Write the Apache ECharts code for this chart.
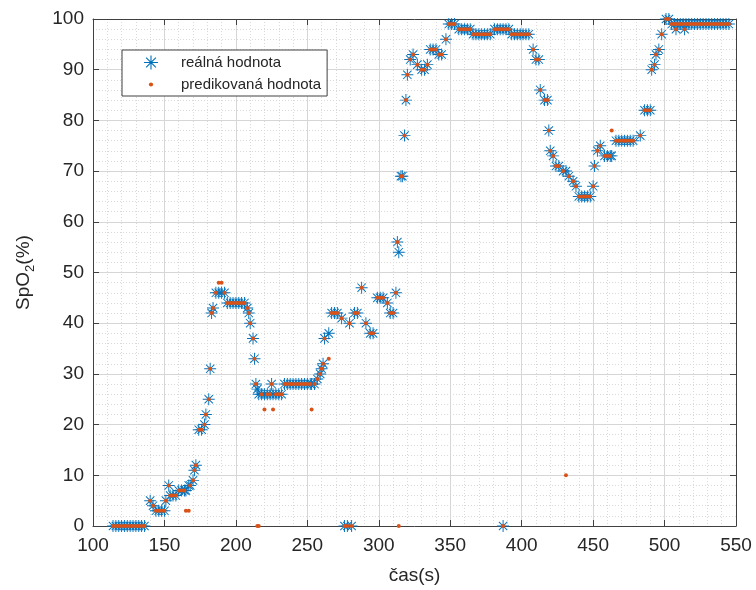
<!DOCTYPE html>
<html>
<head>
<meta charset="utf-8">
<script src="https://cdn.jsdelivr.net/npm/echarts@6/dist/echarts.min.js"></script>
<style>
  html, body { margin: 0; padding: 0; background: #fff; }
  #chart { width: 756px; height: 590px; }
</style>
</head>
<body>
<div id="chart"></div>
<script>
// time (s) shared by both series; real and predicted SpO2 (%) per sample
const time = [
  114, 116, 118, 120, 122, 124, 126, 128, 130, 132, 134, 136,
  140, 142, 144, 146, 148, 150, 151, 153, 154, 156, 158, 160, 162, 164, 165, 167, 168, 170, 171, 172,
  174, 176, 178, 179, 181, 182, 183, 184, 186, 188, 190, 192,
  194, 196, 198, 200, 202, 204, 206, 208, 209, 210, 212, 213, 214, 215, 216,
  218, 220, 222, 224, 225, 226, 228, 230, 232,
  234, 236, 238, 240, 242, 244, 246, 248, 250, 252, 253, 255,
  257, 259, 260, 261, 262, 265, 267, 269, 271, 274,
  276, 278, 279.5, 281, 283, 285, 288, 291, 294, 296,
  299, 301, 303, 306, 308, 310, 312, 313, 314,
  315.5, 316.5, 318, 319, 320, 322, 324, 327, 330, 332, 334,
  336, 338, 340, 342, 344, 347, 349, 351, 353,
  356, 358, 360, 362, 364, 366, 368, 370, 372, 374, 376, 378,
  381, 383, 385, 387, 387, 389, 391,
  393, 395, 397, 399, 401, 403, 405,
  408, 410, 412, 413, 416, 418, 419, 420, 422, 424, 426, 429, 431, 433, 436, 438,
  440, 442, 444, 446, 448, 450, 451, 453, 455, 458, 460, 462, 463,
  466, 468, 470, 472, 474, 476, 478, 483, 486, 488, 490,
  491, 493, 494, 496, 498, 501, 503,
  505, 507, 508, 509, 511, 513, 514, 515, 517, 519, 521, 523, 525, 527, 529, 531, 533, 535, 537, 539, 541, 543, 545
];
const realSpO2 = [
  0, 0, 0, 0, 0, 0, 0, 0, 0, 0, 0, 0,
  5, 4, 3, 3, 3, 3, 5, 8, 6, 6, 6, 7, 7, 7, 7, 8, 8, 9, 11, 12,
  19, 19, 20, 22, 25, 31, 42, 43, 46, 46, 46, 46,
  44, 44, 44, 44, 44, 44, 44, 43, 42, 40, 37, 33, 28, 27, 26,
  26, 26, 26, 26, 28, 26, 26, 26, 26,
  28, 28, 28, 28, 28, 28, 28, 28, 28, 28, 28, 28,
  29, 30, 31, 32, 37, 38, 42, 42, 42, 41,
  0, 0, 40, 0, 42, 42, 47, 40, 38, 38,
  45, 45, 45, 44, 42, 42, 46, 56, 54,
  69, 69, 77, 84, 89, 92, 93, 91, 90, 90, 91,
  94, 94, 94, 93, 93, 96, 99, 99, 99,
  98, 98, 98, 98, 98, 97, 97, 97, 97, 97, 97, 97,
  98, 98, 98, 0, 98, 98, 98,
  97, 97, 97, 97, 97, 97, 97,
  94, 92, 92, 86, 84, 84, 78, 74, 73, 71, 71, 70, 70, 69, 68, 67,
  65, 65, 65, 65, 65, 67, 71, 74, 75, 73, 73, 73, 73,
  76, 76, 76, 76, 76, 76, 76, 77, 82, 82, 82,
  90, 91, 93, 94, 97, 100, 100,
  99, 99, 98, 99, 99, 99, 98, 99, 99, 99, 99, 99, 99, 99, 99, 99, 99, 99, 99, 99, 99, 99, 99
];
const predSpO2 = [
  0, 0, 0, 0, 0, 0, 0, 0, 0, 0, 0, 0,
  5, 4, 3, 3, 3, 3, 5, 8, 6, 6, 6, 7, 7, 7, 3, 3, 8, 9, 11, 12,
  19, 19, 20, 22, 25, 31, 42, 43, 46, 48, 48, 46,
  44, 44, 44, 44, 44, 44, 44, 43, 42, 40, 37, 33, 28, 0, 0,
  26, 23, 26, 26, 28, 23, 26, 26, 26,
  28, 28, 28, 28, 28, 28, 28, 28, 28, 28, 23, 28,
  29, 30, 31, 32, 37, 33, 42, 42, 42, 41,
  0, 0, 40, 0, 42, 42, 47, 40, 38, 38,
  45, 45, 45, 44, 42, 42, 46, 56, 0,
  69, 69, 77, 84, 89, 92, 93, 91, 90, 90, 91,
  94, 94, 94, 93, 93, 96, 99, 99, 99,
  98, 98, 98, 98, 98, 97, 97, 97, 97, 97, 97, 97,
  98, 98, 98, 0, 98, 98, 98,
  97, 97, 97, 97, 97, 97, 97,
  94, 92, 92, 86, 84, 84, 78, 74, 73, 71, 71, 70, 10, 69, 68, 67,
  65, 65, 65, 65, 65, 67, 71, 74, 75, 73, 73, 73, 78,
  76, 76, 76, 76, 76, 76, 76, 77, 82, 82, 82,
  90, 91, 93, 94, 97, 100, 100,
  99, 99, 98, 99, 99, 99, 98, 99, 99, 99, 99, 99, 99, 99, 99, 99, 99, 99, 99, 99, 99, 99, 99
];
const seriesNames = ["reálná hodnota", "predikovaná hodnota"];

const FONT = "Liberation Sans, Arial, sans-serif";
const TEXT = "#262626";
const AXIS = "#404040";
// MATLAB-like '*' marker as filled thin bars (all subpaths same winding)
const ASTERISK = "path://M46 0L54 0L54 100L46 100Z M0 46L100 46L100 54L0 54Z " +
  "M17.8 12.2L87.8 82.2L82.2 87.8L12.2 17.8Z M82.2 12.2L87.8 17.8L17.8 87.8L12.2 82.2Z";
const SMALL_DOT = "path://M0 0M20 20M10 7A3 3 0 1 1 10 13A3 3 0 1 1 10 7Z";

const chart = echarts.init(document.getElementById("chart"), null, { renderer: "canvas" });

const boxAxis = {
  min: 0, max: 100, interval: 10,
  axisLine: { show: true, lineStyle: { color: AXIS, width: 1 } },
  axisTick: { show: true, inside: true, length: 6, lineStyle: { color: AXIS } },
  axisLabel: { show: false },
  splitLine: { show: false }
};

chart.setOption({
  animation: false,
  textStyle: { fontFamily: FONT },
  grid: { left: 93, right: 20, top: 19, bottom: 64 },
  legend: {
    orient: "vertical",
    left: 122, top: 50,
    padding: [5, 6, 4, 22],
    itemWidth: 50, itemHeight: 14, itemGap: 7,
    backgroundColor: "#fff",
    borderColor: AXIS, borderWidth: 1, borderRadius: 0,
    textStyle: { fontFamily: FONT, fontSize: 15, color: TEXT },
    data: [
      { name: seriesNames[0], icon: ASTERISK },
      { name: seriesNames[1], icon: SMALL_DOT }
    ]
  },
  xAxis: [{
    type: "value", min: 100, max: 550, interval: 50,
    name: "čas(s)", nameLocation: "middle", nameGap: 40,
    nameTextStyle: { fontFamily: FONT, fontSize: 19, color: TEXT },
    axisLine: { show: true, onZero: false, lineStyle: { color: AXIS, width: 1 } },
    axisTick: { show: true, inside: true, length: 6, lineStyle: { color: AXIS } },
    axisLabel: { fontFamily: FONT, fontSize: 19, color: TEXT, margin: 10 },
    splitLine: { show: true, lineStyle: { color: "#d6d6d6", width: 1 } },
    minorTick: { show: false, splitNumber: 5 },
    minorSplitLine: { show: true, lineStyle: { color: "#d9d9d9", type: [1, 2], width: 1 } }
  }, {
    type: "value", position: "top", min: 100, max: 550, interval: 50,
    axisLine: { show: true, onZero: false, lineStyle: { color: AXIS, width: 1 } },
    axisTick: { show: true, inside: true, length: 6, lineStyle: { color: AXIS } },
    axisLabel: { show: false },
    splitLine: { show: false }
  }],
  yAxis: [{
    type: "value", min: 0, max: 100, interval: 10,
    name: "{a|SpO}{b|2}{a|(%)}", nameLocation: "middle", nameGap: 56, nameRotate: 90,
    nameTextStyle: {
      rich: {
        a: { fontFamily: FONT, fontSize: 19, color: TEXT, lineHeight: 26, verticalAlign: "middle" },
        b: { fontFamily: FONT, fontSize: 13, color: TEXT, lineHeight: 26, verticalAlign: "bottom" }
      }
    },
    axisLine: { show: true, onZero: false, lineStyle: { color: AXIS, width: 1 } },
    axisTick: { show: true, inside: true, length: 6, lineStyle: { color: AXIS } },
    axisLabel: { fontFamily: FONT, fontSize: 19, color: TEXT, margin: 9 },
    splitLine: { show: true, lineStyle: { color: "#d6d6d6", width: 1 } },
    minorTick: { show: false, splitNumber: 5 },
    minorSplitLine: { show: true, lineStyle: { color: "#d9d9d9", type: [1, 2], width: 1 } }
  }, Object.assign({ type: "value", position: "right" }, boxAxis)],
  series: [{
    name: seriesNames[0],
    type: "scatter",
    symbol: ASTERISK,
    symbolSize: 12,
    itemStyle: { color: "#0072BD", opacity: 1 },
    data: time.map((t, i) => [t, realSpO2[i]]),
    z: 2
  }, {
    name: seriesNames[1],
    type: "scatter",
    symbol: "circle",
    symbolSize: 4,
    itemStyle: { color: "#D95319", opacity: 1 },
    data: time.map((t, i) => [t, predSpO2[i]]),
    z: 3
  }]
});
</script>
</body>
</html>
